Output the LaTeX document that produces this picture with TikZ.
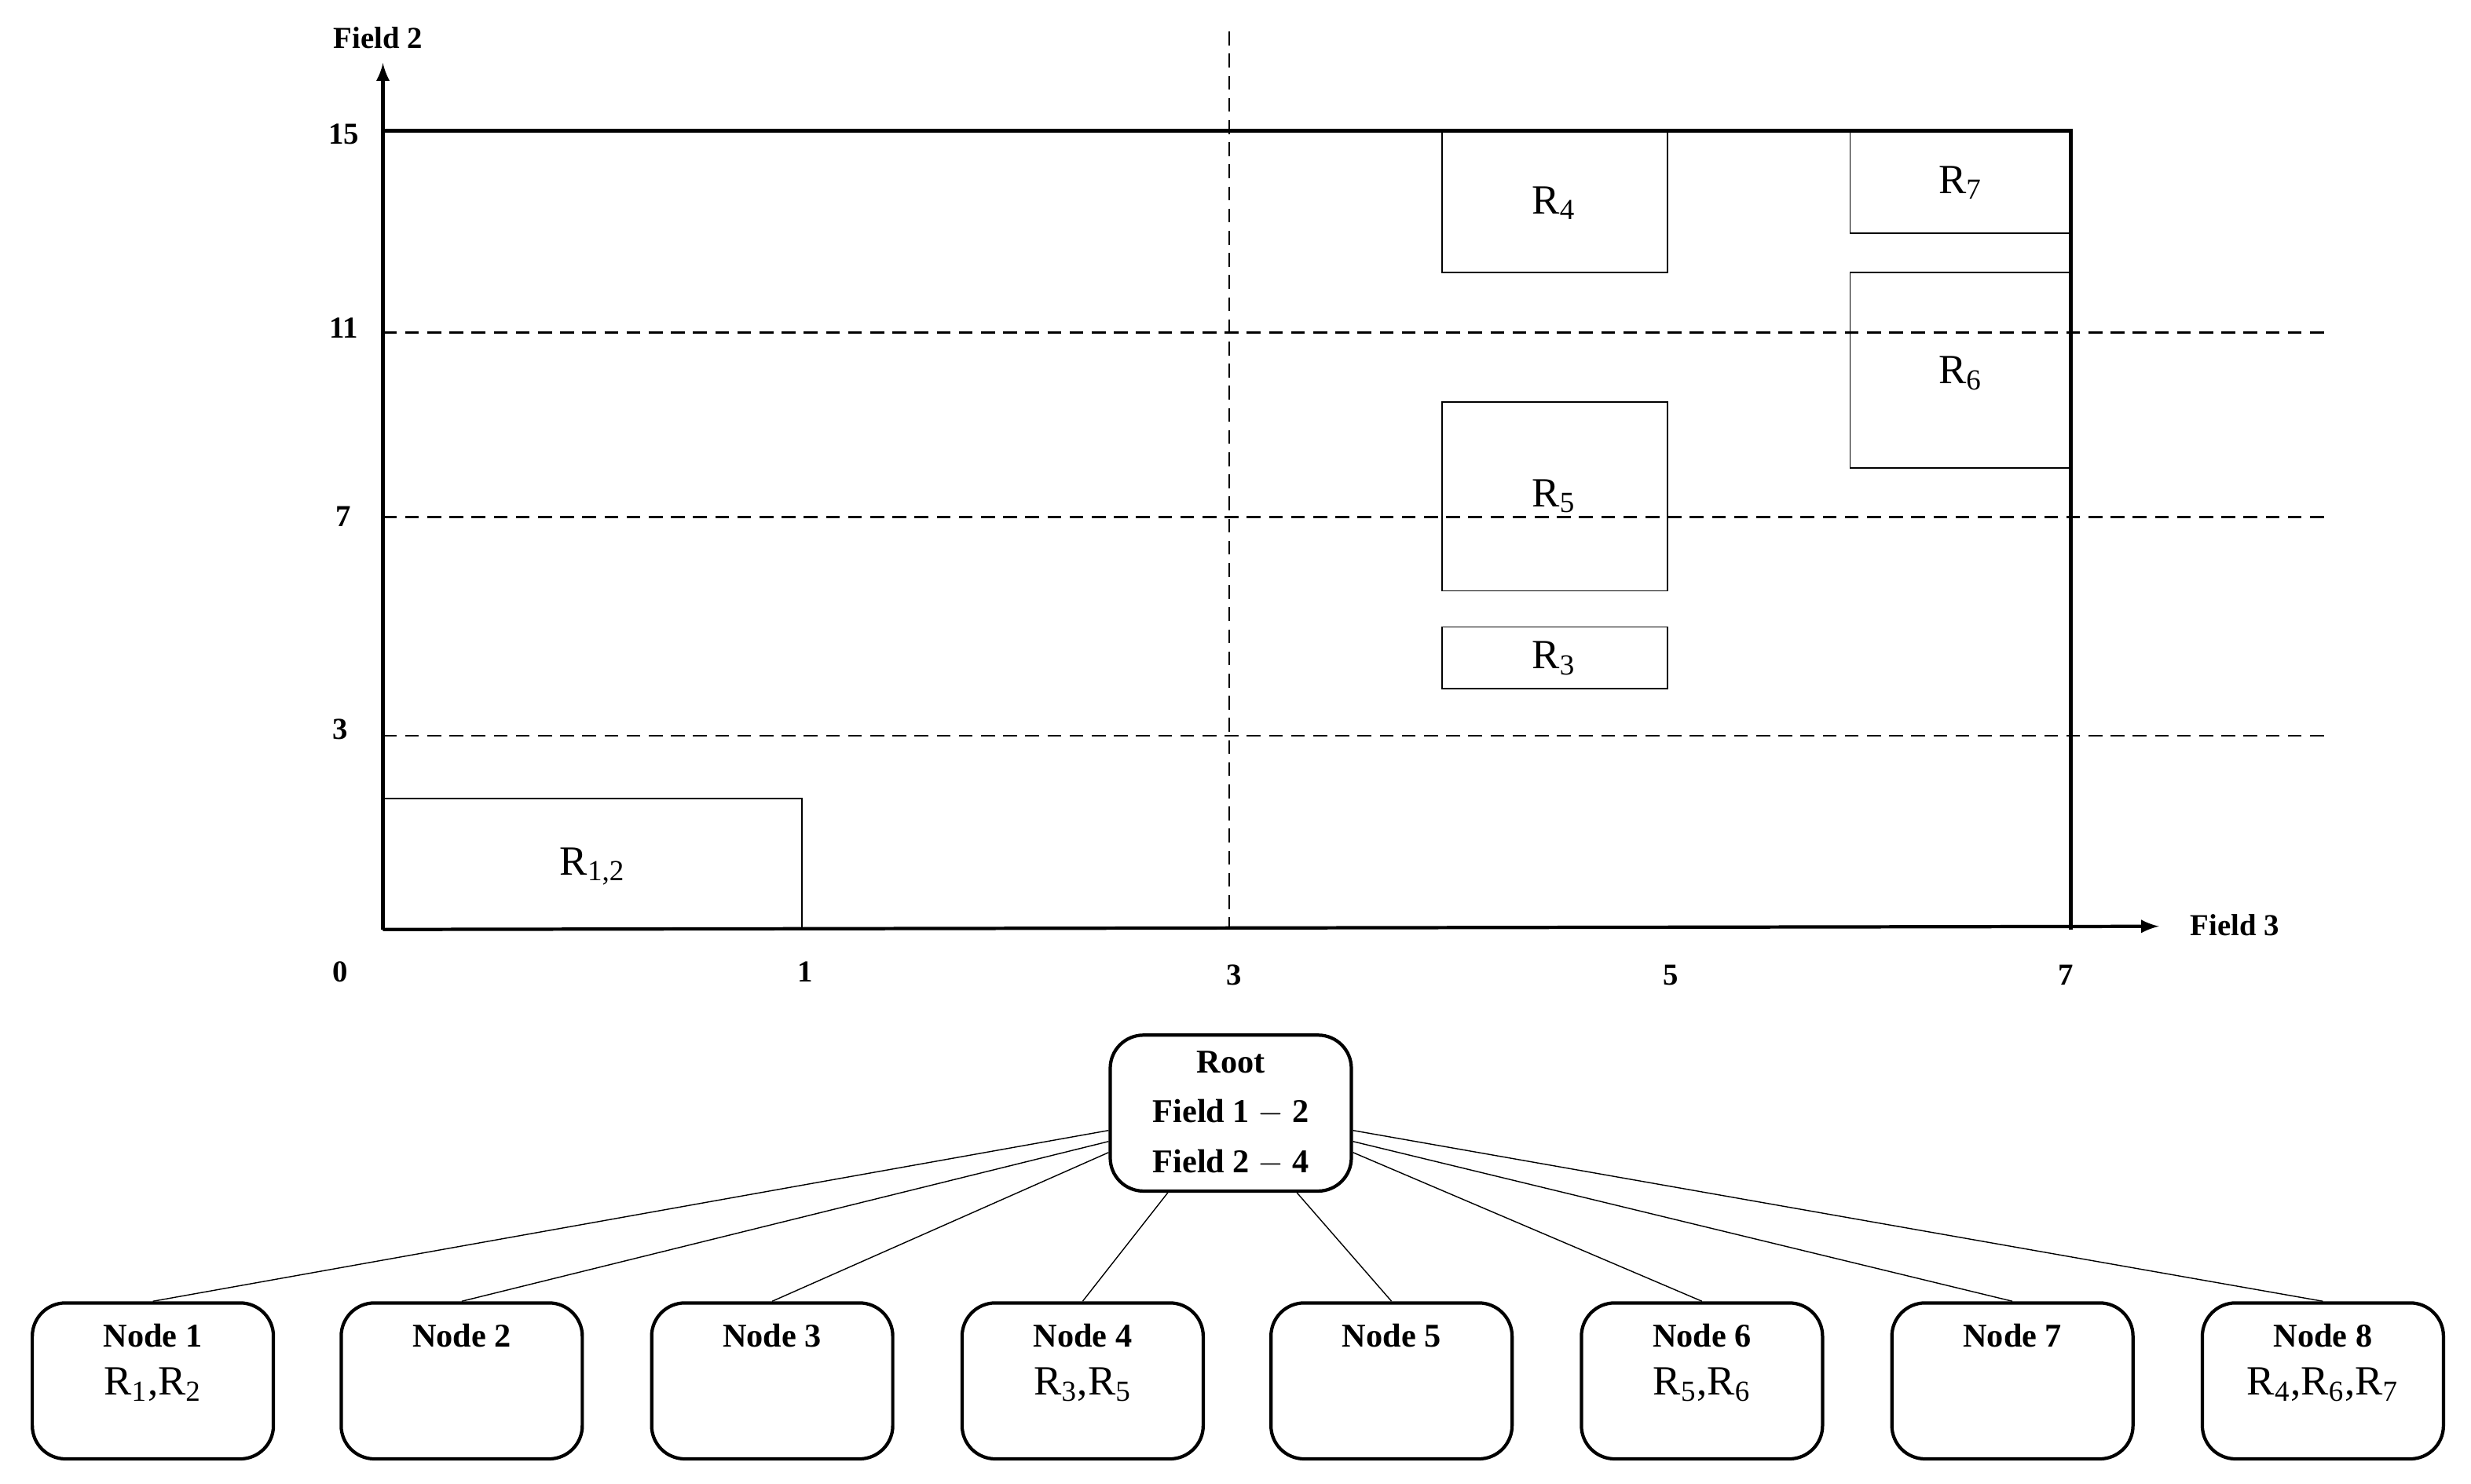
\documentclass[tikz,border=0pt]{standalone}
\usepackage{fontspec}
\setmainfont{Liberation Serif}
\begin{document}
\begin{tikzpicture}[x=0.02cm,y=-0.02cm,
  lab/.style={font=\bfseries\fontsize{11}{12}\selectfont},
  rl/.style={font=\fontsize{15}{16}\selectfont},
  rr/.style={draw,line width=0.5pt},
  dsh/.style={dash pattern=on 5pt off 3pt,line width=0.8pt},
  tn/.style={draw,line width=1.2pt,rounded corners=12pt,minimum width=153*0.02cm,minimum height=99*0.02cm,anchor=north,align=center,inner sep=2pt},
  nt/.style={font=\bfseries\fontsize{12}{14}\selectfont},
  nr/.style={font=\fontsize{15}{17}\selectfont}]
\useasboundingbox (0,0) rectangle (1568,942);
% axes
\coordinate (O) at (243,590);
\coordinate (Ytop) at (243,40);
\coordinate (Xend) at (1370,588);
\draw[line width=1.2pt,-latex] (O) -- (Ytop);
\draw[line width=1.2pt,-latex] (O) -- (Xend);
\draw[line width=1.2pt] (243,83) -- (1314,83) -- (1314,590);
% dashed
\draw[dsh] (780,20) -- (780,590);
\draw[dsh] (243,211) -- (1478,211);
\draw[dsh] (243,328) -- (1478,328);
\draw[dsh] (243,467) -- (1478,467);
% rectangles
\draw[rr] (243,507) rectangle (509,590);
\node[rl] (r12) at (376,550) {R\textsubscript{1,2}};
\draw[rr] (915,83) rectangle (1058,173);
\node[rl] (r4) at (986,129) {R\textsubscript{4}};
\draw[rr] (1174,83) rectangle (1313,148);
\node[rl] (r7) at (1244,116) {R\textsubscript{7}};
\draw[rr] (1174,173) rectangle (1313,297);
\node[rl] (r6) at (1244,237) {R\textsubscript{6}};
\draw[rr] (915,255) rectangle (1058,375);
\node[rl] (r5) at (986,315) {R\textsubscript{5}};
\draw[rr] (915,398) rectangle (1058,437);
\node[rl] (r3) at (986,418) {R\textsubscript{3}};
% labels
\node[lab] (f2) at (240,24) {Field 2};
\node[lab] (f3) at (1418,587) {Field 3};
\node[lab] (y15) at (218,85) {15};
\node[lab] (y11) at (218,208) {11};
\node[lab] (y7) at (218,328) {7};
\node[lab] (y3) at (216,463) {3};
\node[lab] (x0) at (216,617) {0};
\node[lab] (x1) at (511,617) {1};
\node[lab] (x3) at (783,619) {3};
\node[lab] (x5) at (1060,619) {5};
\node[lab] (x7) at (1311,619) {7};
% tree
\node[tn,nt] (root) at (781,656) {Root\\[4pt]Field 1 $-$ 2\\[4pt]Field 2 $-$ 4};
\foreach \i/\x/\t in {1/97/{R\textsubscript{1},R\textsubscript{2}},2/293/{},3/490/{},4/687/{R\textsubscript{3},R\textsubscript{5}},5/883/{},6/1080/{R\textsubscript{5},R\textsubscript{6}},7/1277/{},8/1474/{R\textsubscript{4},R\textsubscript{6},R\textsubscript{7}}}{
  \node[tn] (n\i) at (\x,826) {};
  \node[nt,anchor=north] (nt\i) at (\x,834) {Node \i};
  \node[nr,anchor=north] (nr\i) at (\x,862) {\t};
}
\draw ([yshift=-0.22cm]root.west) -- (n1.north);
\draw ([yshift=-0.36cm]root.west) -- (n2.north);
\draw ([yshift=-0.5cm]root.west) -- (n3.north);
\draw ([xshift=-0.8cm]root.south) -- (n4.north);
\draw ([xshift=0.84cm]root.south) -- (n5.north);
\draw ([yshift=-0.5cm]root.east) -- (n6.north);
\draw ([yshift=-0.36cm]root.east) -- (n7.north);
\draw ([yshift=-0.22cm]root.east) -- (n8.north);
\end{tikzpicture}
\end{document}
